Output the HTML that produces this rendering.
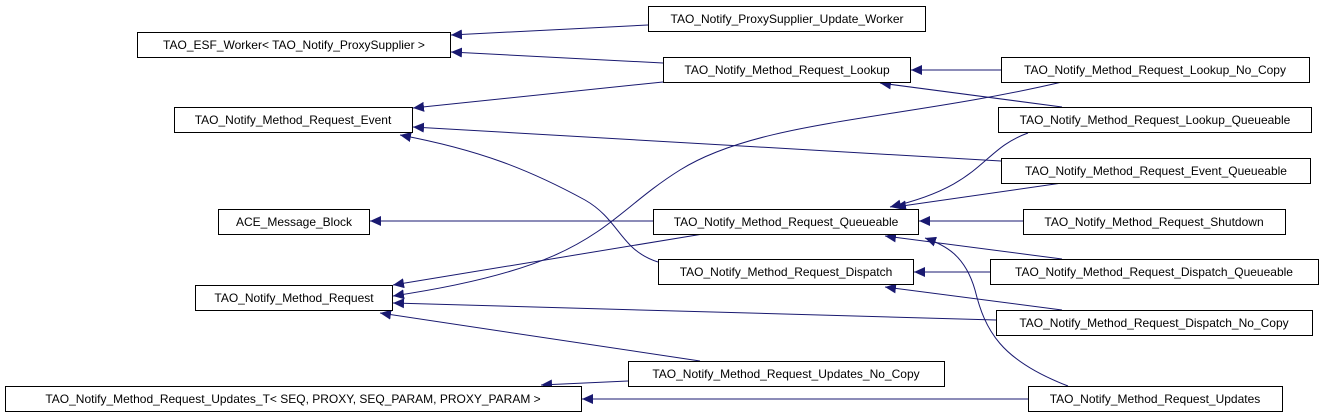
<!DOCTYPE html>
<html><head><meta charset="utf-8"><style>
html,body{margin:0;padding:0;background:#fff;}
svg{display:block;}
text{font-family:"Liberation Sans",Arial,sans-serif;font-size:12px;fill:#000;}
</style></head><body>
<svg width="1323" height="417" viewBox="0 0 1323 417" xmlns="http://www.w3.org/2000/svg">
<defs>
<marker id="a" markerWidth="12" markerHeight="10" refX="11" refY="5" orient="auto" markerUnits="userSpaceOnUse">
<path d="M0,0 L11,5 L0,10 Z" fill="#191970"/>
</marker>
</defs>
<g fill="none" stroke="#191970" stroke-width="1" marker-end="url(#a)">
<path d="M648,25 L451,35"/>
<path d="M663,63 L451,52"/>
<path d="M663,82 L413,108"/>
<path d="M1001,70 L911,70"/>
<path d="M1062,107 L880,83"/>
<path d="M1062,82 C900,120 760,120 680,170 C600,220 600,265 393,296"/>
<path d="M1001,161 L413,127"/>
<path d="M1062,183 L895,207"/>
<path d="M1028,133 C980,150 985,185 890,207"/>
<path d="M658,262 C620,250 620,220 585,200 C530,170 480,150 400,135"/>
<path d="M653,221 L370,221"/>
<path d="M703,234 L393,285"/>
<path d="M1023,221 L919,221"/>
<path d="M1062,259 L885,236"/>
<path d="M990,272 L914,272"/>
<path d="M1068,386 C1000,360 985,330 975,290 C965,255 945,245 925,238"/>
<path d="M1062,310 L885,287"/>
<path d="M996,320 L393,303"/>
<path d="M700,361 L380,313"/>
<path d="M628,381 L541,385"/>
<path d="M1028,399 L582,399"/>
</g>
<g fill="#fff" stroke="#000" stroke-width="1">
<rect x="648.5" y="6.5" width="277" height="25"/>
<rect x="137.5" y="32.5" width="313" height="25"/>
<rect x="663.5" y="57.5" width="247" height="25"/>
<rect x="1001.5" y="57.5" width="308" height="25"/>
<rect x="174.5" y="107.5" width="238" height="25"/>
<rect x="998.5" y="107.5" width="313" height="25"/>
<rect x="1001.5" y="158.5" width="309" height="25"/>
<rect x="218.5" y="209.5" width="151" height="25"/>
<rect x="653.5" y="209.5" width="265" height="25"/>
<rect x="1023.5" y="209.5" width="262" height="25"/>
<rect x="658.5" y="259.5" width="255" height="25"/>
<rect x="990.5" y="259.5" width="328" height="25"/>
<rect x="195.5" y="285.5" width="197" height="25"/>
<rect x="996.5" y="310.5" width="316" height="25"/>
<rect x="628.5" y="361.5" width="316" height="25"/>
<rect x="5.5" y="386.5" width="576" height="25"/>
<rect x="1028.5" y="386.5" width="254" height="25"/>
</g>
<g text-anchor="middle">
<text x="787" y="23">TAO_Notify_ProxySupplier_Update_Worker</text>
<text x="294" y="49">TAO_ESF_Worker&lt; TAO_Notify_ProxySupplier &gt;</text>
<text x="787" y="74">TAO_Notify_Method_Request_Lookup</text>
<text x="1155" y="74">TAO_Notify_Method_Request_Lookup_No_Copy</text>
<text x="293" y="124">TAO_Notify_Method_Request_Event</text>
<text x="1155" y="124">TAO_Notify_Method_Request_Lookup_Queueable</text>
<text x="1156" y="175">TAO_Notify_Method_Request_Event_Queueable</text>
<text x="294" y="226">ACE_Message_Block</text>
<text x="786" y="226">TAO_Notify_Method_Request_Queueable</text>
<text x="1154" y="226">TAO_Notify_Method_Request_Shutdown</text>
<text x="786" y="276">TAO_Notify_Method_Request_Dispatch</text>
<text x="1154" y="276">TAO_Notify_Method_Request_Dispatch_Queueable</text>
<text x="294" y="302">TAO_Notify_Method_Request</text>
<text x="1154" y="327">TAO_Notify_Method_Request_Dispatch_No_Copy</text>
<text x="786" y="378">TAO_Notify_Method_Request_Updates_No_Copy</text>
<text x="293" y="403">TAO_Notify_Method_Request_Updates_T&lt; SEQ, PROXY, SEQ_PARAM, PROXY_PARAM &gt;</text>
<text x="1155" y="403">TAO_Notify_Method_Request_Updates</text>
</g>
</svg>
</body></html>
